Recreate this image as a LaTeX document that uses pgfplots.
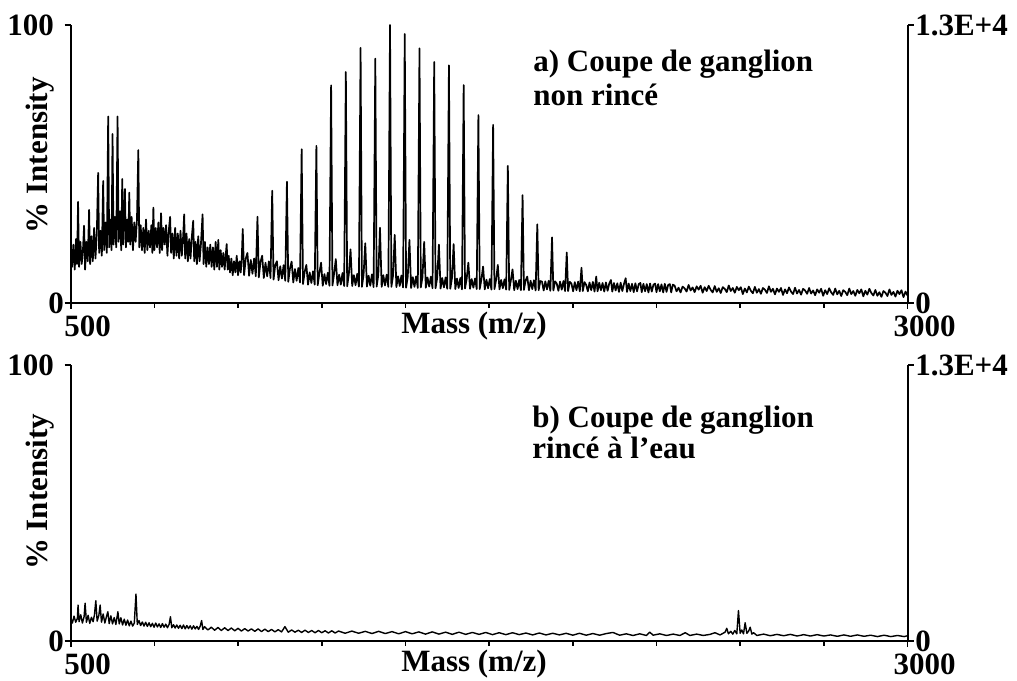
\documentclass[border=0pt]{standalone}
\usepackage{pgfplots}
\pgfplotsset{compat=1.18}
\usepackage{fontspec}
\setmainfont{Liberation Serif}
\newcommand{\lbl}{\fontsize{15.5}{17}\selectfont\bfseries}
\pgfplotsset{
  spec/.style={
    scale only axis, width=418.4pt,
    xmin=500, xmax=3000, ymin=0, ymax=100,
    axis x line=bottom, axis y line=left,
    axis line style={-},
    x axis line style={line width=1.3pt},
    y axis line style={line width=1pt},
    xtick={500,3000}, xticklabels={500,3000},
    minor xtick={750,1000,...,2750},
    ytick={0,100}, yticklabels={{0\kern-5pt},100},
    tick style={black, line width=0.8pt},
    major tick length=3pt, minor tick length=2.5pt,
    tick align=outside,
    tick label style={font=\lbl, inner sep=1pt},
    xticklabel style={xshift=8.5pt, yshift=-2pt},
    yticklabel style={xshift=-4.2pt},
    xlabel={Mass (m/z)},
    xlabel style={font=\lbl, at={(axis description cs:0.482,0)}, anchor=north, yshift=-1pt},
    ylabel={\% Intensity},
    ylabel style={font=\lbl, anchor=center},
  },
  rightax/.style={
    scale only axis, width=418.4pt,
    xmin=500, xmax=3000, ymin=0, ymax=1,
    axis x line=none, axis y line=right,
    axis line style={-, line width=1pt},
    ytick={0,1}, yticklabels={0,1.3E+4},
    tick style={black, line width=0.8pt},
    major tick length=3pt, tick align=outside,
    tick label style={font=\lbl, inner sep=1pt},
    yticklabel style={xshift=-0.3pt},
  },
}
\begin{document}
\begin{tikzpicture}
\path[use as bounding box] (0,0) rectangle (508.5pt,340pt);
% ---------- panel a ----------
\begin{axis}[spec, height=139pt, at={(35.35pt,188.5pt)}, anchor=south west,
  ylabel style={at={(axis description cs:-0.037,0.532)}}]
\addplot[black, line width=0.85pt, line join=round] coordinates {
(500,18)(504,13)(508,21)(512,12)(516,23)(519,14)(522,36.4)(525,13)(529,22)(533,14)(537,20)(540,27.8)(543,12)(547,22)(551,15)(555,33.5)(558,14)(562,24)(566,15)(570,27)(574,16)(578,25)(582,46.8)(585,18)(589,26)(593,17)(597,43.9)(600,19)(604,29)(608,18)(612,67.1)(615,20)(619,30)(622,19)(625,60.8)(628,21)(632,31)(636,20)(640,67.1)(643,22)(647,33)(651,19)(654,44.6)(657,21)(662,41)(665,20)(669,30)(672,22)(675,39.7)(678,21)(682,31)(686,19)(690,29)(694,22)(698,30)(702,55)(705,20)(709,28)(713,19)(717,27)(721,18)(725,30)(729,19)(733,26)(737,20)(741,28)(744,18)(747,34.3)(750,19)(754,27)(758,20)(762,29)(766,18)(770,32.3)(773,19)(777,27)(781,21)(785,28)(789,17)(793,26)(797,31)(800,18)(804,25)(808,16)(812,27)(816,17)(820,25)(824,16)(828,26)(832,17)(836,24)(839,31.9)(842,16)(846,25)(850,15)(854,23)(858,16)(862,24)(866,29.6)(869,15)(873,22)(877,14)(881,24)(885,15)(889,21)(894,31.9)(897,14)(901,22)(905,13)(909,20)(913,14)(917,21)(921,13)(925,20)(929,12)(933,22)(937,13)(941,22.7)(944,12)(948,19)(952,13)(956,18)(960,12)(963,17)(966,21.2)(969,12)(972,17)(976,11)(980,16)(984,10)(988,15)(992,11)(996,17)(1000,10)(1004,15)(1008,11)(1011,16)
(1014,26.6)(1018,10)(1023,16)(1028,18)(1033,9.8)(1038,15.5)(1043,10.5)(1048,16)(1053,9.6)
(1058,31)(1062,9.2)(1067,14.8)(1072,17)(1077,9)(1082,14.5)(1087,9.6)(1092,15)(1097,9)
(1102,40.4)(1106,8.4)(1111,13.6)(1116,15)(1121,8.2)(1126,13.2)(1131,8.8)(1136,13.6)(1141,8)
(1146,43.6)(1150,7.6)(1155,12.4)(1160,14.9)(1165,7.4)(1170,12.2)(1175,8)(1180,12.6)(1185,7.4)
(1190,55.3)(1194,6.8)(1199,11.2)(1204,13.7)(1209,6.6)(1214,11)(1219,7.2)(1224,11.4)(1229,6.6)
(1234,56.5)(1238,6.4)(1243,10.8)(1248,14.5)(1253,6.2)(1258,10.4)(1263,6.8)(1268,10.9)(1273,6.2)
(1278,78.3)(1282,6.3)(1287,10.6)(1292,15.8)(1297,6.4)(1302,10.2)(1307,6.6)(1312,10.8)(1317,6.1)
(1322,83.1)(1326,6)(1331,10.4)(1336,19.3)(1341,6.1)(1346,10)(1351,6.4)(1356,10.5)(1361,5.9)
(1366,91.8)(1370,5.8)(1375,10.2)(1380,21.5)(1385,5.9)(1390,9.8)(1395,6.2)(1400,10.3)(1405,5.7)
(1410,87.9)(1414,5.9)(1419,10.1)(1424,27.1)(1429,5.8)(1434,10)(1439,6.3)(1444,10.2)(1449,5.8)
(1454,100)(1458,5.8)(1463,9.8)(1468,24.5)(1473,5.7)(1478,9.6)(1483,6.1)(1488,9.9)(1493,5.6)
(1498,96.8)(1502,5.5)(1507,9.5)(1512,22.7)(1517,5.4)(1522,9.3)(1527,5.8)(1532,9.6)(1537,5.4)
(1542,91.6)(1546,5.6)(1551,9.4)(1556,22)(1561,5.5)(1566,9.2)(1571,5.9)(1576,9.5)(1581,5.3)
(1586,86.7)(1590,5.3)(1595,9.1)(1600,21)(1605,5.2)(1610,9)(1615,5.6)(1620,9.2)(1625,5.1)
(1630,85.5)(1634,5.1)(1639,8.9)(1644,21.2)(1649,5)(1654,8.8)(1659,5.4)(1664,9)(1669,4.9)
(1674,78.4)(1678,5.2)(1683,8.7)(1688,14.5)(1693,5.1)(1698,8.6)(1703,5.5)(1708,8.8)(1713,5)
(1718,67.6)(1722,5)(1727,8.5)(1732,13.1)(1737,4.9)(1742,8.4)(1747,5.3)(1752,8.6)(1757,4.8)
(1762,64.1)(1766,5)(1771,8.4)(1776,13.7)(1781,4.9)(1786,8.3)(1791,5.3)(1796,8.5)(1801,4.8)
(1806,49.3)(1810,4.7)(1815,8.2)(1820,12.1)(1825,4.6)(1830,8)(1835,5)(1840,8.3)(1845,4.6)
(1850,38.8)(1854,4.7)(1859,8.1)(1864,9.5)(1869,4.6)(1874,8)(1879,5)(1884,8.2)(1889,4.5)
(1894,28.3)(1898,4.6)(1903,7.9)(1908,7.7)(1913,4.5)(1918,7.8)(1923,4.9)(1928,8)(1933,4.4)
(1938,23.6)(1942,4.5)(1947,7.8)(1952,7)(1957,4.4)(1962,7.7)(1967,4.8)(1972,7.9)(1977,4.3)
(1982,18.2)(1986,4.3)(1991,7.6)(1996,7)(2001,4.2)(2006,7.5)(2011,4.6)(2016,7.7)(2021,4.2)
(2026,12.7)(2030,4.3)(2035,7.5)(2040,6.5)(2045,4.2)(2050,7.4)(2055,4.6)(2060,7.6)(2065,4.1)
(2070,9.5)(2074,4.2)(2079,7.3)(2084,4.6)(2089,7.2)(2094,4.1)(2099,7.4)(2104,4.4)(2109,7)
(2114,8.3)(2118,4.1)(2123,7.2)(2128,4.5)(2133,7.1)(2138,4)(2143,7.3)(2148,4.3)(2153,6.9)
(2158,8.9)(2162,4)(2167,7)(2172,4.3)(2177,6.9)(2182,3.9)(2187,7.1)(2192,4.2)(2197,6.8)
(2202,7.2)(2206,3.9)(2211,6.9)(2216,4.2)(2221,6.8)(2226,3.8)(2231,7)(2236,4.1)(2241,6.6)
(2246,7)(2250,3.9)(2255,6.8)(2260,4.2)(2265,6.7)(2270,3.8)(2275,6.9)(2280,4)(2285,6.5)
(2290,6.8)(2294,3.8)(2299,6.6)
(2304,6.3)(2310,4.2)(2316,5.5)(2322,3.8)(2328,5.9)(2334,5.3)(2340,4.1)(2346,6.5)(2352,4.5)(2358,5.6)(2364,3.9)(2370,6.0)(2376,4.8)(2382,6.2)(2388,3.7)(2394,5.7)(2400,4.3)
(2406,6.2)(2412,4.7)(2418,3.8)(2424,6.1)(2430,4.0)(2436,5.3)(2442,3.6)(2448,5.7)(2454,5.1)(2460,3.9)(2466,6.3)(2472,4.3)(2478,5.4)(2484,3.7)(2490,5.8)(2496,4.6)
(2502,5.7)(2508,3.2)(2514,5.2)(2520,3.8)(2526,5.9)(2532,4.4)(2538,3.5)(2544,5.8)(2550,3.7)(2556,5.0)(2562,3.3)(2568,5.4)(2574,4.8)(2580,3.6)(2586,6.0)(2592,4.0)(2598,5.1)
(2604,3.1)(2610,5.2)(2616,4.0)(2622,5.4)(2628,2.9)(2634,4.9)(2640,3.5)(2646,5.6)(2652,4.1)(2658,3.2)(2664,5.5)(2670,3.4)(2676,4.7)(2682,3.0)(2688,5.1)(2694,4.5)(2700,3.3)
(2706,5.4)(2712,3.4)(2718,4.5)(2724,2.8)(2730,4.9)(2736,3.7)(2742,5.1)(2748,2.6)(2754,4.6)(2760,3.2)(2766,5.3)(2772,3.8)(2778,2.9)(2784,5.2)(2790,3.1)(2796,4.4)
(2802,2.5)(2808,4.6)(2814,4.0)(2820,2.8)(2826,5.2)(2832,3.2)(2838,4.3)(2844,2.6)(2850,4.7)(2856,3.5)(2862,4.9)(2868,2.4)(2874,4.4)(2880,3.0)(2886,5.1)(2892,3.6)(2898,2.7)
(2904,4.7)(2910,2.6)(2916,3.9)(2922,2.2)(2928,4.3)(2934,3.7)(2940,2.5)(2946,4.9)(2952,2.9)(2958,4.0)(2964,2.3)(2970,4.4)(2976,3.2)(2982,4.6)(2988,2.1)(2994,4.1)(3000,2.7)
};
\node[anchor=base west, inner sep=0pt, font=\lbl] at (axis cs:1881,83.1) {a) Coupe de ganglion};
\node[anchor=base west, inner sep=0pt, font=\lbl] at (axis cs:1881,71.2) {non rincé};
\end{axis}
\begin{axis}[rightax, height=139pt, at={(35.35pt,188.5pt)}, anchor=south west]
\end{axis}
% ---------- panel b ----------
\begin{axis}[spec, height=138pt, at={(35.35pt,19.5pt)}, anchor=south west,
  ylabel style={at={(axis description cs:-0.037,0.54)}}]
\addplot[black, line width=0.7pt, line join=round] coordinates {
(500,8.5)(505,6.5)(510,9)(515,6.8)(520,8.2)(522,13)(525,7)(530,9.5)(535,6.5)(540,8.8)(543,13.7)(547,6.8)(552,9.3)(557,6.4)(562,8.6)(567,7)(571,9.5)(575,14.6)(579,7.2)(584,9.2)(588,13)(592,6.8)(597,9.8)(602,6.5)(607,8.9)(611,10.6)(615,6.3)(620,9.1)(625,6.2)(630,8.5)(635,6)(641,10.6)(645,6.2)(650,8.4)(655,5.8)(660,7.9)(665,5.7)(670,7.6)(675,5.5)(680,7.2)(685,5.4)(690,6.5)(695,17)(699,6)(704,7.4)(709,5.6)(714,6.9)(719,5.4)(724,6.8)(729,5.3)(734,6.6)(739,5.2)(744,6.4)(749,5)(754,6.5)(759,5.1)(764,6.2)(769,4.9)(774,6.3)(779,5)(784,6.1)(789,4.8)(794,6)(798,8.8)(802,4.8)(807,5.9)(812,4.7)(817,5.8)(822,4.6)(827,5.7)(832,4.5)(837,5.8)(842,4.4)(847,5.6)(852,4.5)(857,5.5)(862,4.3)(867,5.5)(872,4.4)(877,5.3)(882,4.2)(887,5.4)(891,7.4)(895,4.2)(900,5.2)
(910,4)(920,5)(930,3.9)(940,4.9)(950,3.8)(960,4.8)(970,3.8)(980,4.7)(990,3.7)(1000,4.6)(1010,3.6)(1020,4.5)(1030,3.6)(1040,4.4)(1050,3.5)(1060,4.4)(1070,3.4)(1080,4.3)(1090,3.4)(1100,4.2)(1110,3.3)(1120,4.1)(1130,3.3)(1140,5.2)(1150,3.2)(1160,4)(1170,3.2)(1180,3.9)(1190,3.1)(1200,3.9)(1210,3.1)(1220,3.8)(1230,3)(1240,3.8)(1250,3)(1260,3.7)(1270,2.9)(1280,3.7)(1290,2.9)(1300,3.6)(1320,2.8)(1340,3.6)(1360,2.8)(1380,3.5)(1400,2.7)(1420,3.5)(1440,2.7)(1460,3.4)(1480,2.6)(1500,3.4)(1520,2.6)(1540,3.3)(1560,2.5)(1580,3.3)(1600,2.5)(1620,3.2)(1640,2.4)(1660,3.2)(1680,2.4)(1700,3.1)(1720,2.4)(1740,3.1)(1760,2.3)(1780,3)(1800,2.3)(1820,3)(1840,2.3)(1860,2.9)(1880,2.2)(1900,2.9)(1920,2.2)(1940,2.8)(1960,2.2)(1980,2.8)(2000,2.1)(2020,2.8)(2040,2.1)(2060,2.7)(2080,2.1)(2100,2.7)(2120,3.1)(2140,2.1)(2160,2.6)(2180,2)(2200,2.6)(2220,2)(2230,3.2)(2240,2.1)(2260,2.6)(2280,2)(2300,2.5)(2320,2)(2336,3)(2350,2)(2370,2.5)(2390,2)(2410,2.4)(2425,3)(2440,2.2)(2455,3.2)(2460,4.6)(2465,2.6)(2472,3.5)(2478,2.5)(2484,3.8)(2490,2.6)(2495,11)(2500,2.8)(2505,4)(2510,2.6)(2515,6.6)(2520,2.8)(2525,3.5)(2530,5)(2535,2.5)(2540,3)(2550,2)(2570,2.5)(2590,1.9)(2610,2.4)(2630,1.9)(2650,2.4)(2670,1.8)(2690,2.3)(2710,1.8)(2730,2.3)(2750,1.8)(2770,2.2)(2790,1.7)(2810,2.2)(2830,1.7)(2850,2.2)(2870,1.7)(2890,2.1)(2910,1.6)(2930,2.1)(2950,1.6)(2970,2)(2990,1.6)(3000,1.9)
};
\node[anchor=base west, inner sep=0pt, font=\lbl] at (axis cs:1878,77.5) {b) Coupe de ganglion};
\node[anchor=base west, inner sep=0pt, font=\lbl] at (axis cs:1878,66.3) {rincé à l’eau};
\end{axis}
\begin{axis}[rightax, height=138pt, at={(35.35pt,19.5pt)}, anchor=south west]
\end{axis}
\end{tikzpicture}
\end{document}
